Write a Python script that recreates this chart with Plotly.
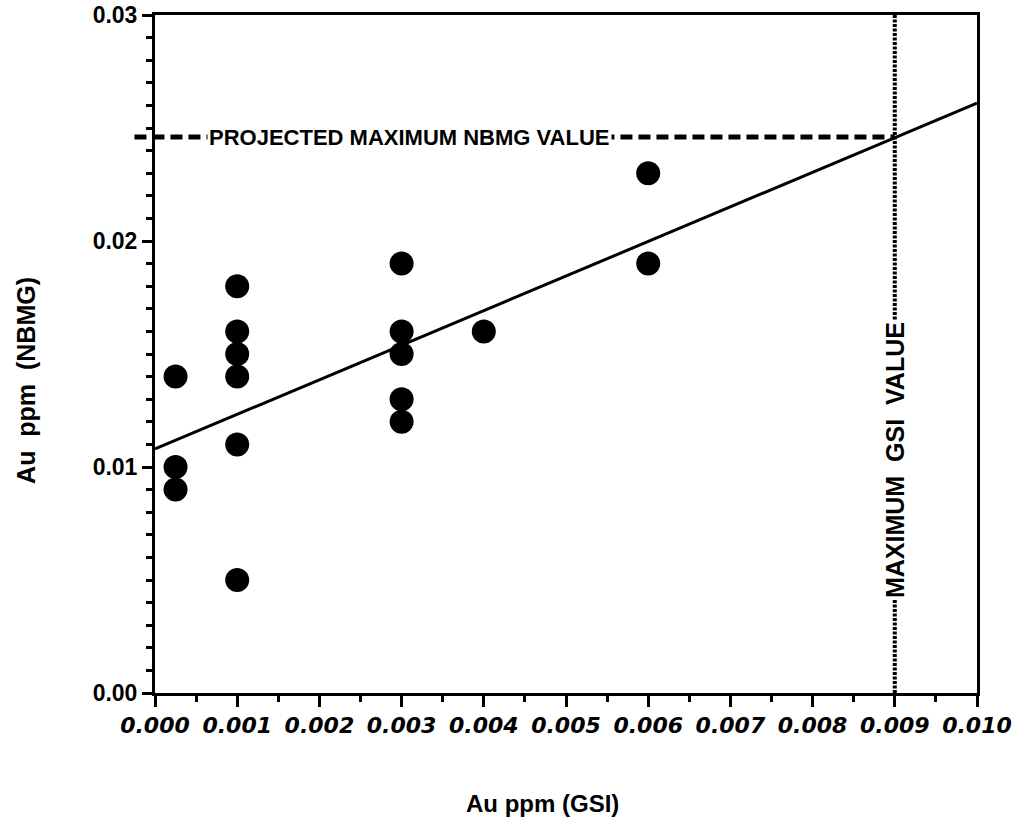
import plotly.graph_objects as go

# Data
gsi = [0.00025, 0.00025, 0.00025,
       0.001, 0.001, 0.001, 0.001, 0.001, 0.001,
       0.003, 0.003, 0.003, 0.003, 0.003,
       0.004,
       0.006, 0.006]
nbmg = [0.014, 0.010, 0.009,
        0.018, 0.016, 0.015, 0.014, 0.011, 0.005,
        0.019, 0.016, 0.015, 0.013, 0.012,
        0.016,
        0.023, 0.019]

fit_x = [0.0, 0.010]
fit_y = [0.0108, 0.0261]

gsi_max = 0.009
nbmg_projected = 0.0246

x_ticks = [0.000, 0.001, 0.002, 0.003, 0.004, 0.005, 0.006, 0.007, 0.008, 0.009, 0.010]
x_ticklabels = ["0.000", "0.001", "0.002", "0.003", "0.004", "0.005",
                "0.006", "0.007", "0.008", "0.009", "0.010"]
y_ticks = [0.00, 0.01, 0.02, 0.03]
y_ticklabels = ["0.00", "0.01", "0.02", "0.03"]

x_range = [0.0, 0.010]
y_range = [0.0, 0.030]

fig = go.Figure()

# regression line
fig.add_trace(go.Scatter(x=fit_x, y=fit_y, mode="lines",
                         line=dict(color="black", width=3),
                         showlegend=False, hoverinfo="skip"))

# data points
fig.add_trace(go.Scatter(x=gsi, y=nbmg, mode="markers",
                         marker=dict(color="black", size=24, line=dict(width=0)),
                         showlegend=False, cliponaxis=False))

# projected maximum NBMG value (dashed horizontal)
fig.add_shape(type="line", xref="paper", yref="y",
              x0=-0.025, x1=(gsi_max - x_range[0]) / (x_range[1] - x_range[0]),
              y0=nbmg_projected, y1=nbmg_projected,
              line=dict(color="black", width=5, dash="12px,6px"), layer="above")

# maximum GSI value (dotted vertical)
fig.add_shape(type="line", xref="x", yref="y",
              x0=gsi_max, x1=gsi_max, y0=y_range[0], y1=y_range[1],
              line=dict(color="black", width=4, dash="3px,1.5px"), layer="above")

sans = "Liberation Sans, Arial, sans-serif"

fig.add_annotation(x=0.0031, y=nbmg_projected, xref="x", yref="y",
                   text="<b>PROJECTED MAXIMUM NBMG VALUE</b>", showarrow=False,
                   font=dict(family=sans, size=22, color="black"),
                   bgcolor="white", borderpad=1)

fig.add_annotation(x=gsi_max, y=0.0103, xref="x", yref="y",
                   text="<b>MAXIMUM  GSI  VALUE</b>", showarrow=False, textangle=-90,
                   font=dict(family=sans, size=25, color="black"),
                   bgcolor="white", borderpad=1)

# axis titles
fig.add_annotation(x=0.472, y=-0.1637, xref="paper", yref="paper",
                   text="<b>Au ppm (GSI)</b>", showarrow=False,
                   xanchor="center", yanchor="middle",
                   font=dict(family=sans, size=24, color="black"))
fig.add_annotation(x=-0.157, y=0.4617, xref="paper", yref="paper",
                   text="<b>Au  ppm  (NBMG)</b>", showarrow=False, textangle=-90,
                   xanchor="center", yanchor="middle",
                   font=dict(family=sans, size=25, color="black"))

fig.update_xaxes(range=x_range, tickmode="array", tickvals=x_ticks, ticktext=x_ticklabels,
                 ticks="outside", ticklen=11, tickwidth=3, tickcolor="black",
                 minor=dict(dtick=0.0005, ticks="outside", ticklen=6, tickwidth=3,
                            tickcolor="black", showgrid=False),
                 showline=True, linecolor="black", linewidth=3, mirror=True,
                 showgrid=False, zeroline=False, automargin=False,
                 tickfont=dict(family="DejaVu Sans", size=22, color="black",
                               weight="bold", style="italic"))

fig.update_yaxes(range=y_range, tickmode="array", tickvals=y_ticks, ticktext=y_ticklabels,
                 ticks="outside", ticklen=10, tickwidth=3, tickcolor="black",
                 minor=dict(dtick=0.001, ticks="outside", ticklen=6, tickwidth=3,
                            tickcolor="black", showgrid=False),
                 showline=True, linecolor="black", linewidth=3, mirror=True,
                 showgrid=False, zeroline=False, automargin=False,
                 tickfont=dict(family=sans, size=23, color="black", weight="bold"))

fig.update_layout(width=1017, height=821,
                  margin=dict(l=155, r=40, t=15, b=128, autoexpand=False),
                  paper_bgcolor="white", plot_bgcolor="white",
                  showlegend=False)

# remove the default 8px page margin so the figure fills the 1017x821 window
fig.write_html("out.html",
               config={"displayModeBar": False, "staticPlot": True},
               post_script="document.body.style.margin='0';"
                           "document.body.style.overflow='hidden';")
